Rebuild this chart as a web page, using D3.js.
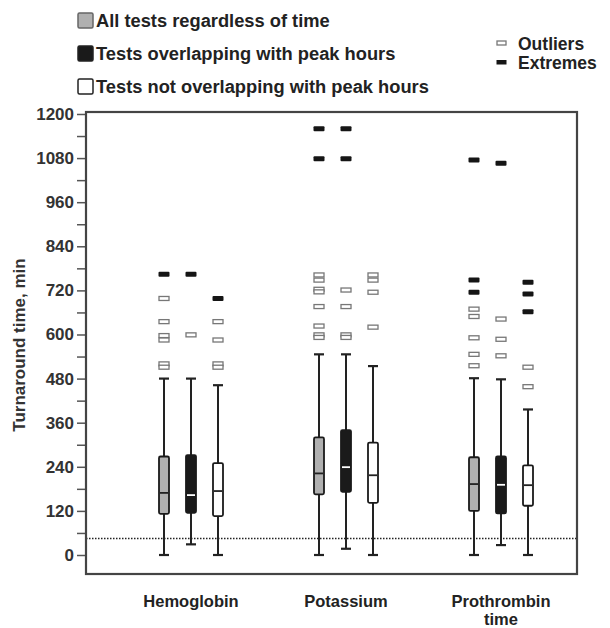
<!DOCTYPE html>
<html>
<head>
<meta charset="utf-8">
<script src="https://cdn.jsdelivr.net/npm/d3@7"></script>
<style>
  body { margin: 0; background: #fff; }
  text { font-family: "Liberation Sans", Arial, sans-serif; font-weight: bold; }
</style>
</head>
<body>
<div id="chart"></div>
<script>
// categories and series
var categories = ["Hemoglobin", "Potassium", "Prothrombin time"];
var seriesNames = ["All tests regardless of time",
                   "Tests overlapping with peak hours",
                   "Tests not overlapping with peak hours"];

// box statistics, one array per series, in category order
var whiskerLow  = [[0, 0, 0], [29, 17, 27], [0, 0, 0]];
var q1Values    = [[112, 165, 120], [115, 172, 113], [106, 142, 134]];
var medians     = [[169, 222, 193], [163, 239, 191], [174, 217, 190]];
var q3Values    = [[268, 320, 266], [272, 340, 268], [250, 306, 244]];
var whiskerHigh = [[480, 546, 481], [480, 546, 478], [462, 514, 396]];

// outliers (open) and extremes (filled)
var outliers = [
    [[698, 635, 597, 585, 520, 511], [762, 748, 723, 716, 676, 623, 599, 592], [669, 649, 591, 546, 515]],
    [[599], [721, 676, 599, 592], [642, 587, 542]],
    [[635, 585, 520, 511], [762, 748, 715, 620], [511, 458]]
];
var extremes = [
    [[764], [1160, 1078], [1075, 748, 715]],
    [[764], [1160, 1078], [1066]],
    [[698], [], [742, 710, 662]]
];

var targetTime = 45;
var yTicks = d3.range(0, 1201, 120);
var yMinor = d3.range(60, 1200, 120);

var svgWidth = 610;
var svgHeight = 628;

var margin = { top: 112, left: 86, right: 33, bottom: 54 };
var width = svgWidth - margin.left - margin.right;
var height = svgHeight - margin.top - margin.bottom;

var boxFill = ["#b0b0b0", "#1a1a1a", "#ffffff"];
var medianColor = ["#222", "#ffffff", "#222"];

var svg = d3.select("#chart").append("svg")
    .attr("width", svgWidth)
    .attr("height", svgHeight);

var chartGroup = svg.append("g")
    .attr("transform", `translate(${margin.left}, ${margin.top})`);

//scales
var yScale = d3.scaleLinear()
    .domain([-51.7, 1205.4])
    .range([height, 0]);

var x0 = d3.scalePoint()
    .domain(categories)
    .range([105, 415]);

var x1 = d3.scalePoint()
    .domain(d3.range(seriesNames.length))
    .range([-27, 27]);

//target line
chartGroup.append("line")
    .attr("x1", 0).attr("x2", width)
    .attr("y1", yScale(targetTime)).attr("y2", yScale(targetTime))
    .attr("stroke", "#222")
    .attr("stroke-width", 1.5)
    .attr("stroke-dasharray", "1.5,1.5");

//y axis with minor ticks
var minorAxis = chartGroup.append("g")
    .call(d3.axisLeft(yScale).tickValues(yMinor).tickSize(9).tickFormat(""));
minorAxis.select(".domain").remove();
minorAxis.selectAll("line").attr("stroke", "#555").attr("stroke-width", 1.5);

var yAxis = chartGroup.append("g")
    .call(d3.axisLeft(yScale).tickValues(yTicks).tickSize(9).tickPadding(3).tickFormat(d3.format("d")));
yAxis.select(".domain").remove();
yAxis.selectAll("line").attr("stroke", "#555").attr("stroke-width", 1.5);
yAxis.selectAll("text")
    .attr("font-size", "17px")
    .attr("fill", "#333")
    .attr("font-family", "Liberation Sans, Arial, sans-serif");

//frame
chartGroup.append("rect")
    .attr("x", 0).attr("y", 0)
    .attr("width", width).attr("height", height)
    .attr("fill", "none")
    .attr("stroke", "#444")
    .attr("stroke-width", 2.2);

//y label
svg.append("text")
    .attr("transform", "translate(25, 345) rotate(-90)")
    .attr("text-anchor", "middle")
    .attr("font-size", "17px")
    .attr("fill", "#333")
    .text("Turnaround time, min");

//box plots
var boxW = 10;
var capW = 10;
seriesNames.forEach(function(name, s) {
    categories.forEach(function(cat, c) {
        var cx = x0(cat) + x1(s);
        var g = chartGroup.append("g");

        //whiskers
        g.append("line")
            .attr("x1", cx).attr("x2", cx)
            .attr("y1", yScale(whiskerHigh[s][c])).attr("y2", yScale(whiskerLow[s][c]))
            .attr("stroke", "#222").attr("stroke-width", 2);
        [whiskerHigh[s][c], whiskerLow[s][c]].forEach(function(v) {
            g.append("line")
                .attr("x1", cx - capW / 2).attr("x2", cx + capW / 2)
                .attr("y1", yScale(v)).attr("y2", yScale(v))
                .attr("stroke", "#222").attr("stroke-width", 2.2);
        });

        //box
        g.append("rect")
            .attr("x", cx - boxW / 2)
            .attr("y", yScale(q3Values[s][c]))
            .attr("width", boxW)
            .attr("height", yScale(q1Values[s][c]) - yScale(q3Values[s][c]))
            .attr("rx", 1.5)
            .attr("fill", boxFill[s])
            .attr("stroke", "#1a1a1a")
            .attr("stroke-width", 1.8);

        //median
        g.append("line")
            .attr("x1", cx - boxW / 2 + 1).attr("x2", cx + boxW / 2 - 1)
            .attr("y1", yScale(medians[s][c])).attr("y2", yScale(medians[s][c]))
            .attr("stroke", medianColor[s]).attr("stroke-width", 1.8);

        //outliers
        g.selectAll(".outlier")
            .data(outliers[s][c])
            .enter()
            .append("rect")
            .attr("x", cx - 5)
            .attr("y", d => yScale(d) - 2)
            .attr("width", 10)
            .attr("height", 4)
            .attr("fill", "#fff")
            .attr("stroke", "#777")
            .attr("stroke-width", 1.3);

        //extremes
        g.selectAll(".extreme")
            .data(extremes[s][c])
            .enter()
            .append("rect")
            .attr("x", cx - 5.5)
            .attr("y", d => yScale(d) - 2.5)
            .attr("width", 11)
            .attr("height", 5)
            .attr("rx", 1)
            .attr("fill", "#151515");
    });
});

//category labels, wrapped onto separate lines
var catLabels = chartGroup.append("g")
    .attr("transform", `translate(0, ${height})`);
categories.forEach(function(cat) {
    var words = cat === "Prothrombin time" ? ["Prothrombin", "time"] : [cat];
    words.forEach(function(w, i) {
        catLabels.append("text")
            .attr("x", x0(cat))
            .attr("y", 33 + i * 18)
            .attr("text-anchor", "middle")
            .attr("font-size", "16.5px")
            .attr("fill", "#222")
            .text(w);
    });
});

//legend for series
var legend = svg.append("g");
seriesNames.forEach(function(name, s) {
    var ly = 13 + s * 33;
    legend.append("rect")
        .attr("x", 78).attr("y", ly)
        .attr("width", 15).attr("height", 15)
        .attr("rx", 1.5)
        .attr("fill", boxFill[s])
        .attr("stroke", s === 0 ? "#666" : "#222")
        .attr("stroke-width", 1.5);
    legend.append("text")
        .attr("x", 96).attr("y", ly + 14)
        .attr("font-size", "18.3px")
        .attr("fill", "#222")
        .text(name);
});

//legend for outliers / extremes
legend.append("rect")
    .attr("x", 497).attr("y", 41)
    .attr("width", 9).attr("height", 4)
    .attr("fill", "#fff").attr("stroke", "#777").attr("stroke-width", 1.3);
legend.append("text")
    .attr("x", 518).attr("y", 50)
    .attr("font-size", "17.5px").attr("fill", "#222")
    .text("Outliers");
legend.append("rect")
    .attr("x", 496.5).attr("y", 60)
    .attr("width", 10).attr("height", 4.5)
    .attr("fill", "#151515");
legend.append("text")
    .attr("x", 518).attr("y", 69)
    .attr("font-size", "17.5px").attr("fill", "#222")
    .text("Extremes");
</script>
</body>
</html>
